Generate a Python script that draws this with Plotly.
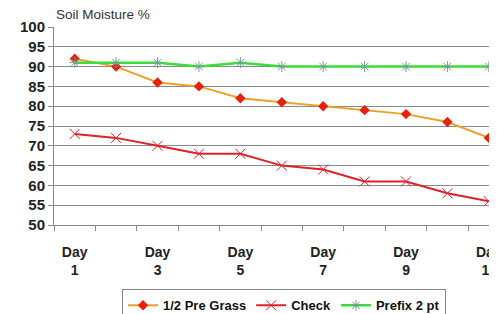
import plotly.graph_objects as go

days = [1, 2, 3, 4, 5, 6, 7, 8, 9, 10, 11]
pre_grass = [92, 90, 86, 85, 82, 81, 80, 79, 78, 76, 72]
check = [73, 72, 70, 68, 68, 65, 64, 61, 61, 58, 56]
prefix = [91, 91, 91, 90, 91, 90, 90, 90, 90, 90, 90]
label_days = [1, 3, 5, 7, 9, 11]
label_text = ["Day<br>%d" % d for d in label_days]

fig = go.Figure()
fig.add_trace(go.Scatter(x=days, y=pre_grass, name="1/2 Pre Grass", mode="lines+markers",
                         line=dict(color="#F0A028", width=2),
                         marker=dict(symbol="diamond", size=8, color="#E8200C")))
fig.add_trace(go.Scatter(x=days, y=check, name="Check", mode="lines+markers",
                         line=dict(color="#E0202C", width=2),
                         marker=dict(symbol="x-thin-open", size=10, color="#E0202C",
                                     line=dict(width=1, color="#E0202C"))))
fig.add_trace(go.Scatter(x=days, y=prefix, name="Prefix 2 pt", mode="lines+markers",
                         line=dict(color="#38E038", width=2.5),
                         marker=dict(symbol="asterisk-open", size=9, color="#70A090",
                                     line=dict(width=1, color="#70A090"))))

fig.update_layout(
    width=497, height=314,
    margin=dict(l=46, r=0, t=19, b=95),
    paper_bgcolor="white", plot_bgcolor="white",
    font=dict(family="Liberation Sans, Arial", color="#222"),
    showlegend=True,
    legend=dict(orientation="h", x=0.51, xanchor="center", y=-0.325, yanchor="top",
                bordercolor="#888", borderwidth=1,
                font=dict(size=13, family="Liberation Sans, Arial", weight="bold", color="#111"),
                itemwidth=30, tracegroupgap=0),
)
fig.add_annotation(text="Soil Moisture %", xref="paper", yref="paper", x=0.0, y=1.0,
                   xanchor="left", yanchor="bottom", yshift=3, showarrow=False,
                   font=dict(size=13.5, color="#333"))
fig.update_xaxes(range=[0.5, 11.39], tickvals=label_days, ticktext=label_text,
                 ticks="", showgrid=False, showline=True, linecolor="#888", linewidth=1,
                 automargin=False, ticklabeloverflow="allow", ticklabelstandoff=14,
                 tickfont=dict(size=14, weight="bold", color="#222"),
                 minor=dict(ticks="outside", tick0=0.5, dtick=1, ticklen=5,
                            tickcolor="#888", showgrid=False),
                 zeroline=False)
fig.update_yaxes(range=[50, 100], dtick=5, ticks="outside", ticklen=5, tickcolor="#888",
                 showgrid=True, gridcolor="#8a8a8a", gridwidth=1.2, automargin=False,
                 showline=True, linecolor="#888", linewidth=1,
                 tickfont=dict(size=15, weight="bold", color="#222"), zeroline=False)

fig.write_html("out.html")
